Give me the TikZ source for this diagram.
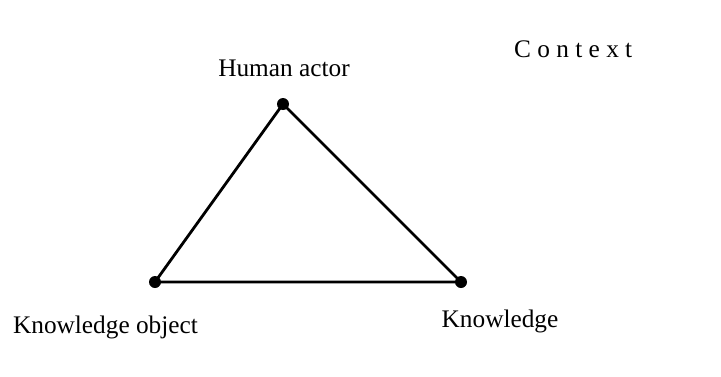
\documentclass[tikz,border=0pt]{standalone}
\usepackage{fontspec}
\setmainfont{Liberation Serif}
\usetikzlibrary{positioning}
\tikzset{
  vrchol/.style={circle,fill=black,inner sep=0pt,minimum size=12pt},
  popis/.style={inner sep=0pt,anchor=base,font=\fontsize{25.3}{30}\selectfont},
  hrana/.style={line width=2.8pt,line cap=round,line join=round},
}
\begin{document}
\begin{tikzpicture}[x=1pt,y=-1pt]
  \useasboundingbox (0,0) rectangle (721,376);
  \node[vrchol] (clovek) at (283,104) {};
  \node[vrchol] (objekt) at (155,282) {};
  \node[vrchol] (znalost) at (461,282) {};
  \draw[hrana] (clovek.center)--(objekt.center)--(znalost.center)--cycle;
  \node[popis] (lclovek) at (284,76) {Human actor};
  \node[popis,anchor=base west] (kontext) at (514,57) {C o n t e x t};
  \node[popis] (lobjekt) at (105.5,333) {Knowledge object};
  \node[popis] (lznalost) at (500,327) {Knowledge};
\end{tikzpicture}
\end{document}
